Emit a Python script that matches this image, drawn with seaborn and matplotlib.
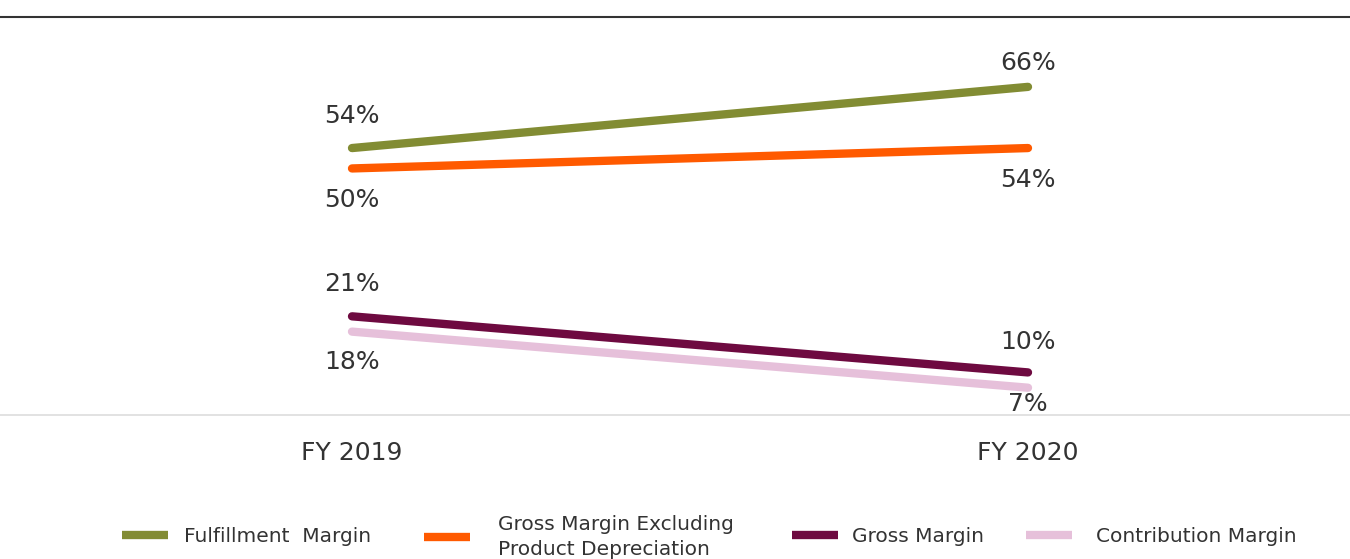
import matplotlib
matplotlib.use("Agg")
import matplotlib.pyplot as plt
import seaborn as sns
import pandas as pd

years = ["FY 2019", "FY 2020"]
series_names = ["Fulfillment  Margin", "Gross Margin Excluding\nProduct Depreciation",
                "Gross Margin", "Contribution Margin"]
fulfillment = [54, 66]
gross_ex_dep = [50, 54]
gross = [21, 10]
contribution = [18, 7]
colors = ["#828c33", "#ff5a00", "#6e0a40", "#e6c0da"]

values = [fulfillment, gross_ex_dep, gross, contribution]
rows = []
for name, vals in zip(series_names, values):
    for i, (yr, v) in enumerate(zip(years, vals)):
        rows.append({"year": yr, "x": i, "value": v, "series": name})
df = pd.DataFrame(rows)

sns.set_style("white")
plt.rcParams["font.family"] = ["DejaVu Sans"]

fig = plt.figure(figsize=(13.5, 5.59), dpi=100)
ax = fig.add_axes([0, 1 - 415 / 559, 1, (415 - 17) / 559])

sns.lineplot(data=df, x="x", y="value", hue="series", hue_order=series_names,
             palette=colors, linewidth=6, ax=ax, legend=True)
for ln in ax.get_lines():
    ln.set_solid_capstyle("round")

ax.set_xlim(-352 / 676, 1 + (1350 - 1028) / 676)
ax.set_ylim(1.65, 79.7)
ax.set_xticks([0, 1])
ax.set_xticklabels(years, fontsize=18, color="#333333")
ax.tick_params(axis="x", length=0, pad=19)
ax.set_yticks([])
ax.set_xlabel("")
ax.set_ylabel("")
for s in ["left", "right"]:
    ax.spines[s].set_visible(False)
ax.spines["top"].set_color("#333333")
ax.spines["top"].set_linewidth(1.5)
ax.spines["bottom"].set_color("#dddddd")
ax.spines["bottom"].set_linewidth(1.2)

# label offsets in points (above positive, below negative)
offsets = [[23, 17], [-23, -23], [23, 22], [-22, -12]]
for vals, offs in zip(values, offsets):
    for i, (v, o) in enumerate(zip(vals, offs)):
        ax.annotate(f"{v}%", (i, v), xytext=(0, o), textcoords="offset points",
                    ha="center", va="center", fontsize=18, color="#333333")

handles, labels = ax.get_legend_handles_labels()
ax.get_legend().remove()

# separate legend entries: (handle left px, handle-text gap px)
entry_pos = [(122, 16), (424, 28), (792, 14), (1026, 24)]
leg_fs = 14.5
fs_px = leg_fs * 100 / 72
for h, lab, (xpx, gap) in zip(handles, labels, entry_pos):
    leg = fig.legend([h], [lab], loc="center left",
                     bbox_to_anchor=(xpx / 1350, 1 - 537 / 559),
                     frameon=False, fontsize=leg_fs, handlelength=46 / fs_px,
                     handletextpad=gap / fs_px, borderpad=0, borderaxespad=0)
    for l in leg.get_lines():
        l.set_linewidth(6)
        l.set_solid_capstyle("butt")
    for t in leg.get_texts():
        t.set_color("#333333")
        t.set_linespacing(1.35)

fig.savefig("out.png", dpi=100)
